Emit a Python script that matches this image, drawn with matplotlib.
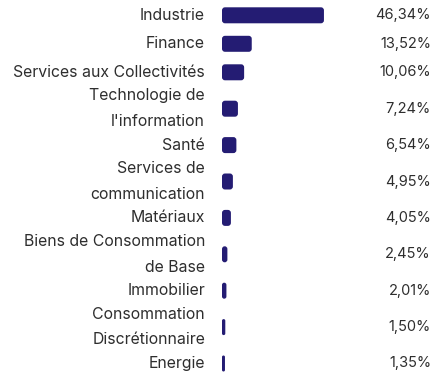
import matplotlib
matplotlib.use('Agg')
import matplotlib.pyplot as plt
from matplotlib.patches import FancyBboxPatch
from matplotlib.transforms import blended_transform_factory

plt.rcParams['font.family'] = ['Inter', 'DejaVu Sans']

sectors = [
    "Industrie",
    "Finance",
    "Services aux Collectivités",
    "Technologie de\nl'information",
    "Santé",
    "Services de\ncommunication",
    "Matériaux",
    "Biens de Consommation\nde Base",
    "Immobilier",
    "Consommation\nDiscrétionnaire",
    "Energie",
]
weights = [46.34, 13.52, 10.06, 7.24, 6.54, 4.95, 4.05, 2.45, 2.01, 1.50, 1.35]

BAR_COLOR = '#241c73'
TEXT_COLOR = '#2e2e2e'

W, H = 433, 374
fig = plt.figure(figsize=(W / 100, H / 100), dpi=100)

# axes starts where the bars start; y axis runs in pixels from the top
bar_x0 = 222
px_per_pct = 2.2
ax = fig.add_axes([bar_x0 / W, 0, (W - bar_x0) / W, 1])
ax.set_xlim(0, (W - bar_x0) / px_per_pct)
ax.set_ylim(H, 0)
ax.axis('off')

# row centres: first rows are compact, the rest leave room for two-line labels
row_gaps = [28.5, 28.5] + [36.4] * 8
ys = [15.3]
for g in row_gaps:
    ys.append(ys[-1] + g)

bar_h = 16
radius_px = 3
aspect = px_per_pct  # y units (px) per x unit (%)

label_tf = blended_transform_factory(fig.transFigure, ax.transData)

for name, val, y in zip(sectors, weights, ys):
    w_px = val * px_per_pct
    r = min(radius_px, w_px / 2) / px_per_pct
    patch = FancyBboxPatch((0, y - bar_h / 2), val, bar_h,
                           boxstyle=f"round,pad=0,rounding_size={r}",
                           mutation_aspect=aspect,
                           fc=BAR_COLOR, ec='none')
    ax.add_patch(patch)
    ax.text(205 / W, y, name, transform=label_tf, ha='right', va='center',
            fontsize=11.4, color=TEXT_COLOR, linespacing=1.9)
    ax.text(431 / W, y, f"{val:.2f}%".replace('.', ','), transform=label_tf,
            ha='right', va='center', fontsize=10.5, color=TEXT_COLOR)

fig.savefig('out.png', dpi=100)
